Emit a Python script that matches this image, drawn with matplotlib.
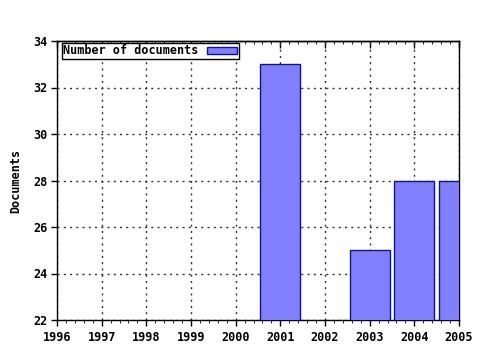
import numpy as np
import matplotlib
matplotlib.use("Agg")
import matplotlib.pyplot as plt
from matplotlib.ticker import MultipleLocator

# ---------- Datos ----------
anios = [2001, 2003, 2004, 2005]
documentos = [33, 25, 28, 28]
ticks_anio = list(range(1996, 2006))
ticks_y = [22, 24, 26, 28, 30, 32, 34]

plt.rcParams['font.family'] = 'DejaVu Sans Mono'
plt.rcParams['font.weight'] = 'bold'
plt.rcParams['axes.labelweight'] = 'bold'
plt.rcParams['font.size'] = 8.5

fig = plt.figure(figsize=(4.8, 3.5), dpi=100)
ax = fig.add_axes([57 / 480, 1 - 320 / 350, 402 / 480, 279 / 350])

ax.bar(anios, documentos, width=0.9, color='#8080ff', edgecolor='#1010a0',
       linewidth=1.0, label='Number of documents', zorder=3)

ax.set_xlim(1996, 2005)
ax.set_ylim(22, 34)
ax.set_xticks(ticks_anio)
ax.set_yticks(ticks_y)
ax.xaxis.set_minor_locator(MultipleLocator(0.2))

ax.grid(True, which='major', color='#333333', linestyle=(0, (1.5, 3)), linewidth=1.0, zorder=0)

ax.tick_params(axis='x', which='major', direction='out', length=4, width=1, pad=4)
ax.tick_params(axis='x', which='minor', direction='out', length=2, width=0.6)
ax.tick_params(axis='y', which='major', direction='out', length=4, width=1, pad=3)

top = ax.secondary_xaxis('top')
top.set_xticks(ticks_anio)
top.xaxis.set_minor_locator(MultipleLocator(0.2))
top.tick_params(which='major', direction='in', length=5, width=1, labeltop=False)
top.tick_params(which='minor', direction='in', length=2, width=0.6)
top.spines['top'].set_linewidth(1)

for s in ax.spines.values():
    s.set_linewidth(1)

ax.set_ylabel('Documents', labelpad=8)

leg = ax.legend(loc='upper left', bbox_to_anchor=(0.012, 0.992), markerfirst=False,
                frameon=True, fancybox=False, framealpha=1, edgecolor='black',
                borderpad=0.1, handlelength=2.6, handleheight=0.6, handletextpad=0.7,
                borderaxespad=0)
leg.get_frame().set_linewidth(1)

fig.savefig('out.png', dpi=100)
